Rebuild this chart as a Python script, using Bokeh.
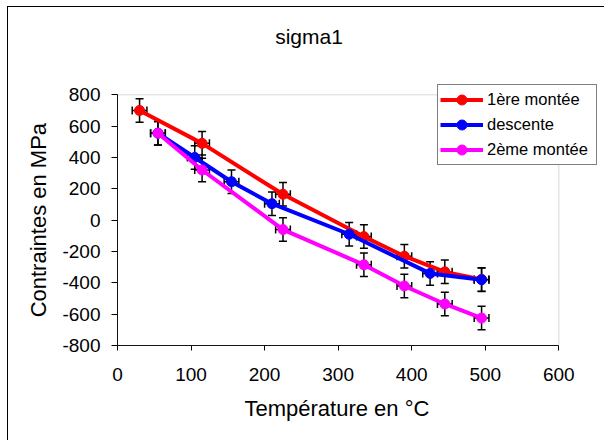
from bokeh.plotting import figure
from bokeh.models import (ColumnDataSource, Whisker, TeeHead, Legend, LegendItem,
                          FixedTicker, Label, BoxAnnotation, Range1d, Title)
from bokeh.embed import file_html
from bokeh.resources import INLINE

# ---- data ----
title_text = "sigma1"
x_label = "Température en °C"
y_label = "Contraintes en MPa"

series_names = ["1ère montée", "descente", "2ème montée"]
temp_1 = [30, 115, 225, 335, 390, 445, 495]
sig_1 = [700, 490, 165, -105, -230, -330, -378]
temp_2 = [55, 105, 155, 210, 315, 425, 495]
sig_2 = [555, 400, 245, 105, -90, -340, -380]
temp_3 = [55, 115, 225, 335, 390, 445, 495]
sig_3 = [555, 320, -60, -285, -420, -535, -625]
err_sig = 75
err_temp = 10

x_min, x_max = 0, 600
y_min, y_max = -800, 800
x_ticks = [0, 100, 200, 300, 400, 500, 600]
y_ticks = [-800, -600, -400, -200, 0, 200, 400, 600, 800]
y_tick_labels = ["-800", "-600", "-400", "-200", "0", "200", "400", "600", "800"]
colors = ["#FF0000", "#0000FF", "#FF00FF"]

FONT = "Liberation Sans"

# canvas layout (pixels)
W, H = 597, 434
LEFT, BOTTOM = 109, 96
PX_X = 441.3 / (x_max - x_min)      # px per °C
PX_Y = 250.7 / (y_max - y_min)      # px per MPa
x_end = x_min + (W - LEFT) / PX_X
y_end = y_min + (H - BOTTOM) / PX_Y

p = figure(width=W, height=H, output_backend="svg", toolbar_location=None,
           x_range=Range1d(x_min, x_end), y_range=Range1d(y_min, y_end),
           min_border_left=LEFT, min_border_right=0, min_border_top=0, min_border_bottom=BOTTOM)
p.styles = {"border-left": "1px solid black", "border-top": "1px solid black",
            "margin-left": "7px", "margin-top": "6px"}
p.background_fill_color = "white"
p.border_fill_color = "white"
p.outline_line_color = None
p.xgrid.visible = False
p.ygrid.visible = False

for ax in (p.xaxis[0], p.yaxis[0]):
    ax.axis_line_color = "black"
    ax.major_tick_line_color = "black"
    ax.minor_tick_line_color = None
    ax.major_tick_in = 0
    ax.major_label_text_font = FONT
    ax.major_label_text_font_size = "19px"
    ax.major_label_text_color = "black"

p.xaxis.bounds = (x_min, x_max)
p.yaxis.bounds = (y_min, y_max)
p.xaxis.ticker = FixedTicker(ticks=x_ticks)
p.yaxis.ticker = FixedTicker(ticks=y_ticks)
p.yaxis.major_label_overrides = {t: l for t, l in zip(y_ticks, y_tick_labels)}
p.xaxis.major_tick_out = 5
p.yaxis.major_tick_out = 6
p.xaxis.major_label_standoff = 17
p.yaxis.major_label_standoff = 11

# axis titles, placed so they are centred on the 0..600 / -800..800 plot area
Y_TITLE_W = 194.4   # approx. rendered length of y title (px)
X_TITLE_W = 187.3   # approx. rendered length of x title (px)
y_center_px = (0 - y_min) * PX_Y           # from frame bottom
x_center_px = (300 - x_min) * PX_X         # from frame left
ytitle = Title(text=y_label, align="left", offset=y_center_px - Y_TITLE_W / 2,
               text_font=FONT, text_font_size="22px", text_font_style="normal",
               text_color="black")
xtitle = Title(text=x_label, align="left", offset=x_center_px - X_TITLE_W / 2,
               text_font=FONT, text_font_size="22px", text_font_style="normal",
               text_color="black")
if "standoff" in Title.properties():
    ytitle.standoff = 17
    xtitle.standoff = 21
p.add_layout(ytitle, "left")
p.add_layout(xtitle, "below")

# plot-area border (gray, Excel style)
plot_area = BoxAnnotation(left=x_min, right=x_max, bottom=y_min, top=y_max,
                          fill_alpha=0, line_color="#808080", line_width=1)
p.add_layout(plot_area)

items = []
for name, tx, sy, col in zip(series_names, [temp_1, temp_2, temp_3], [sig_1, sig_2, sig_3], colors):
    src = ColumnDataSource(dict(
        x=tx, y=sy,
        yl=[v - err_sig for v in sy], yu=[v + err_sig for v in sy],
        xl=[v - err_temp for v in tx], xu=[v + err_temp for v in tx]))
    ln = p.line("x", "y", source=src, line_color=col, line_width=4)
    mk = p.scatter("x", "y", source=src, marker="circle", size=10, fill_color=col, line_color=col)
    items.append(LegendItem(label=name, renderers=[ln, mk]))
    wv = Whisker(source=src, base="x", lower="yl", upper="yu", dimension="height",
                 line_color="black", line_width=1.5,
                 lower_head=TeeHead(size=8, line_color="black", line_width=1.5),
                 upper_head=TeeHead(size=8, line_color="black", line_width=1.5))
    wh = Whisker(source=src, base="y", lower="xl", upper="xu", dimension="width",
                 line_color="black", line_width=1.5,
                 lower_head=TeeHead(size=8, line_color="black", line_width=1.5),
                 upper_head=TeeHead(size=8, line_color="black", line_width=1.5))
    p.add_layout(wv)
    p.add_layout(wh)

legend = Legend(items=items, location=(320, 180), orientation="vertical",
                border_line_color="black", border_line_width=1,
                background_fill_color="white", background_fill_alpha=1,
                label_text_font=FONT, label_text_font_size="16.5px", label_text_color="black",
                glyph_width=43, glyph_height=25, label_height=25, label_width=107,
                label_standoff=4, padding=2, spacing=0, margin=0)
p.add_layout(legend, "center")

title = Label(x=191.5, y=309.5, x_units="screen", y_units="screen", text=title_text,
              text_align="center", text_baseline="alphabetic",
              text_font=FONT, text_font_size="21px", text_color="black")
p.add_layout(title)

open("out.html", "w").write(file_html(p, INLINE))
